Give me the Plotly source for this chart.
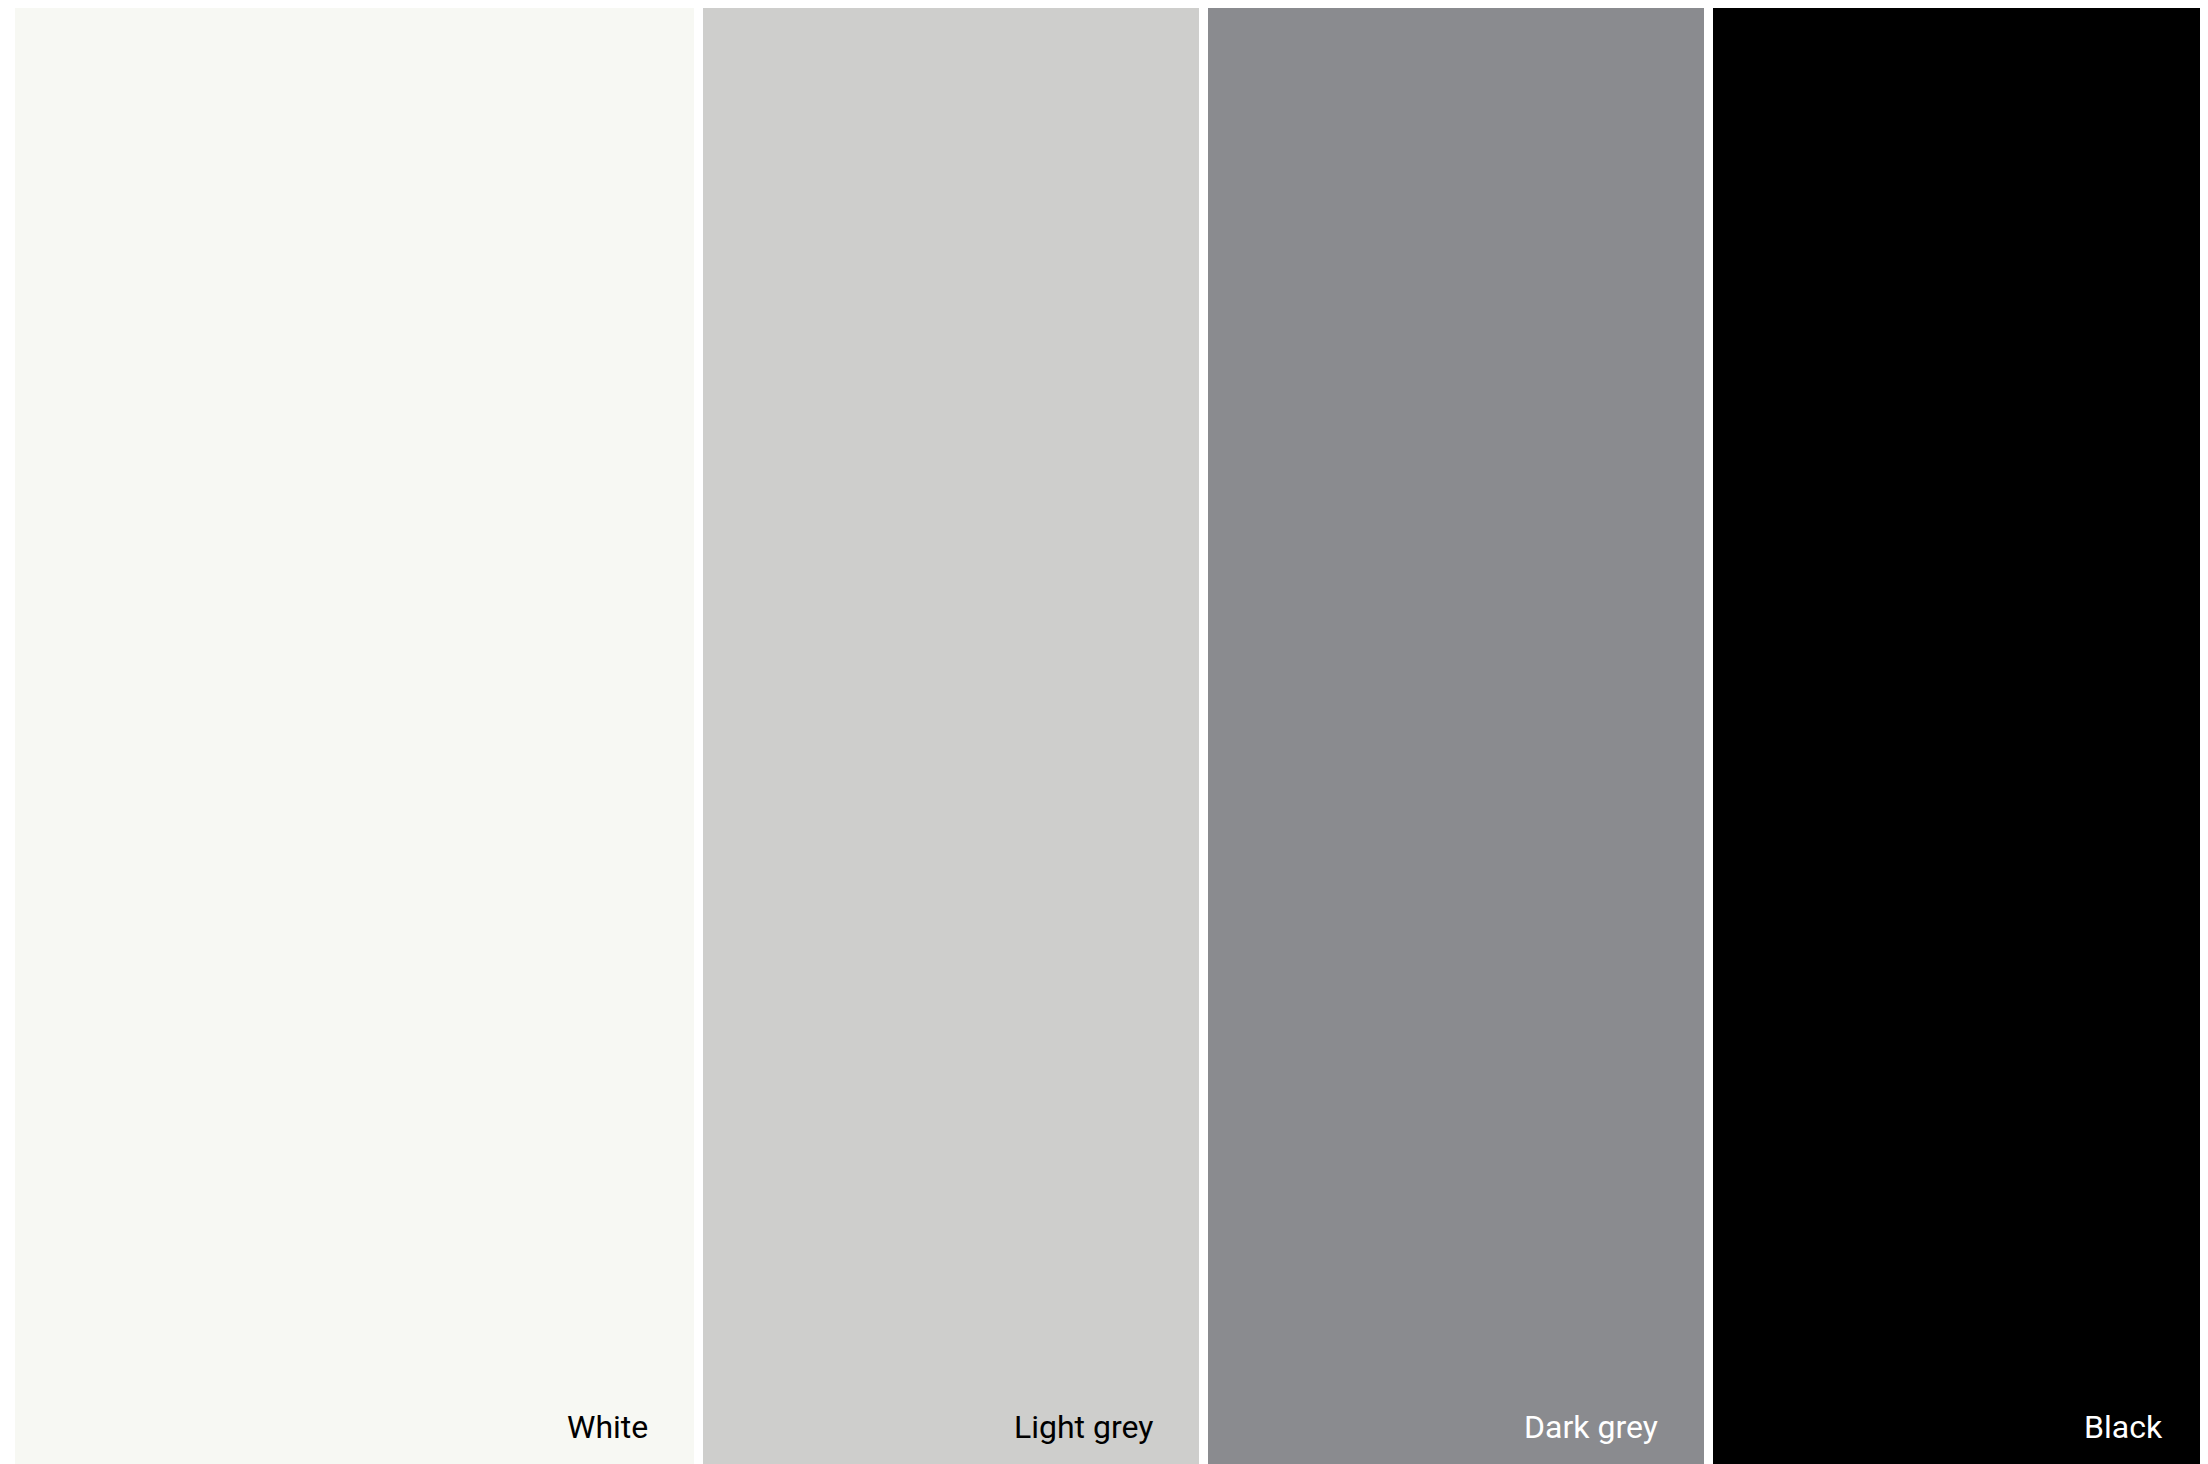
import plotly.graph_objects as go

categories = ["White", "Light grey", "Dark grey", "Black"]
values = [10.9, 8, 8, 8]
tile_colors = ["#F7F8F3", "#CECECC", "#8A8B8F", "#000000"]
label_colors = ["#000000", "#000000", "#FFFFFF", "#FFFFFF"]

lefts = []
acc = 0
for v in values:
    lefts.append(acc)
    acc += v
centers = [l + v / 2 for l, v in zip(lefts, values)]
rights = [l + v for l, v in zip(lefts, values)]
total = acc

fig = go.Figure()
fig.add_trace(go.Bar(
    x=centers,
    y=[1] * len(values),
    width=values,
    marker=dict(color=tile_colors, line=dict(color="#FFFFFF", width=9)),
    hoverinfo="skip",
    showlegend=False,
))

for cat, r, col in zip(categories, rights, label_colors):
    fig.add_annotation(
        x=r, y=0, xref="x", yref="y",
        text=cat, showarrow=False,
        xanchor="right", yanchor="bottom",
        xshift=-49, yshift=24,
        font=dict(family="Roboto", size=32, color=col),
    )

fig.update_layout(
    width=2206, height=1464,
    margin=dict(l=3, r=0, t=0, b=0),
    paper_bgcolor="#FFFFFF",
    plot_bgcolor="#FFFFFF",
    xaxis=dict(range=[0, total], visible=False, fixedrange=True),
    yaxis=dict(range=[0, 0.99], visible=False, fixedrange=True),
    bargap=0,
)

fig.write_html("out.html")
